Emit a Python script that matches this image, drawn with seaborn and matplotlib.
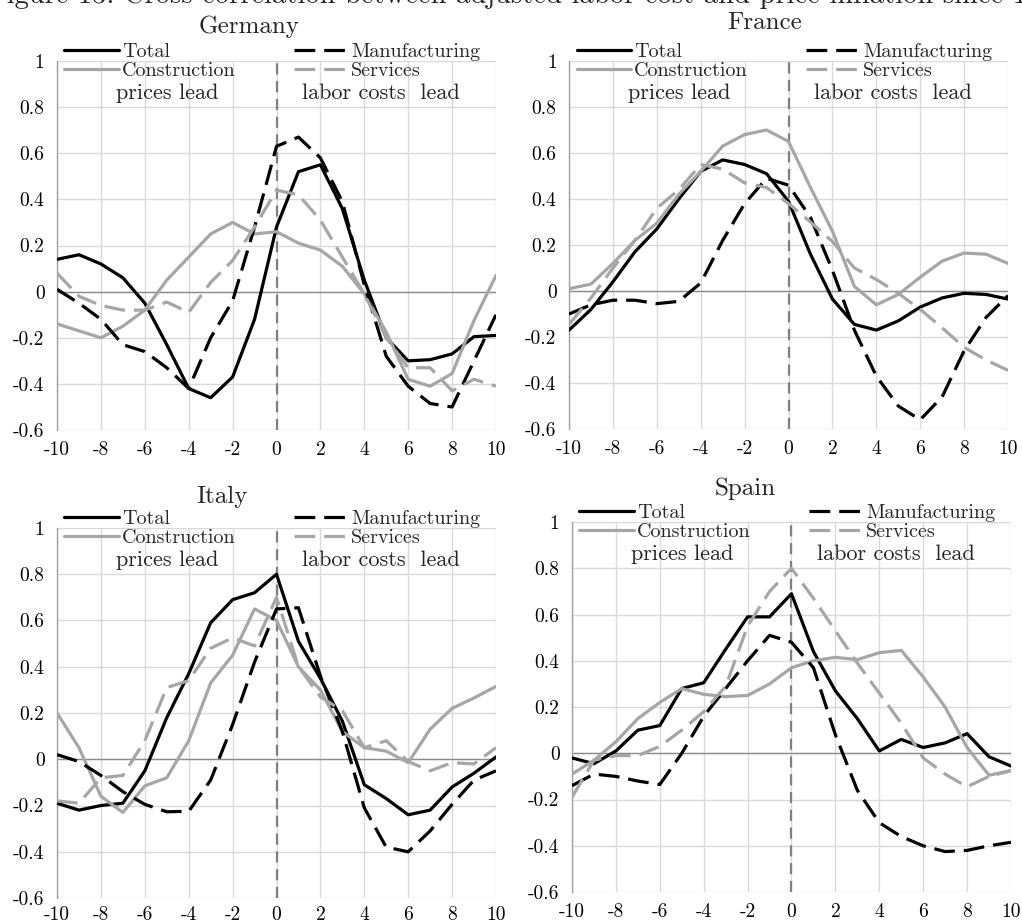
import numpy as np
import pandas as pd
import matplotlib
matplotlib.use("Agg")
import matplotlib.pyplot as plt
import seaborn as sns
from matplotlib.ticker import FuncFormatter

# lags
lags = list(range(-10, 11))

# Germany
de_total = [0.14, 0.16, 0.12, 0.06, -0.05, -0.23, -0.42, -0.46, -0.37, -0.12, 0.28, 0.52, 0.55, 0.36, 0.05, -0.20, -0.30, -0.295, -0.27, -0.195, -0.19]
de_manuf = [0.01, -0.05, -0.12, -0.23, -0.26, -0.33, -0.42, -0.20, -0.04, 0.28, 0.63, 0.67, 0.58, 0.39, 0.03, -0.28, -0.41, -0.485, -0.50, -0.30, -0.10]
de_constr = [-0.14, -0.17, -0.20, -0.15, -0.08, 0.05, 0.15, 0.25, 0.30, 0.25, 0.26, 0.21, 0.18, 0.11, -0.01, -0.175, -0.38, -0.41, -0.355, -0.125, 0.07]
de_serv = [0.08, -0.02, -0.06, -0.08, -0.08, -0.045, -0.09, 0.04, 0.135, 0.28, 0.44, 0.42, 0.31, 0.15, -0.01, -0.20, -0.33, -0.33, -0.43, -0.38, -0.41]

# France
fr_total = [-0.17, -0.08, 0.04, 0.17, 0.27, 0.40, 0.52, 0.57, 0.55, 0.51, 0.39, 0.16, -0.035, -0.145, -0.17, -0.13, -0.07, -0.03, -0.01, -0.015, -0.035]
fr_manuf = [-0.10, -0.06, -0.04, -0.04, -0.055, -0.045, 0.035, 0.22, 0.38, 0.49, 0.46, 0.32, 0.09, -0.17, -0.37, -0.50, -0.56, -0.46, -0.26, -0.115, -0.02]
fr_constr = [0.01, 0.03, 0.12, 0.22, 0.295, 0.42, 0.52, 0.63, 0.68, 0.70, 0.65, 0.45, 0.26, 0.02, -0.06, -0.015, 0.06, 0.13, 0.165, 0.16, 0.12]
fr_serv = [-0.145, -0.03, 0.10, 0.22, 0.36, 0.44, 0.55, 0.53, 0.47, 0.45, 0.38, 0.30, 0.215, 0.10, 0.05, -0.01, -0.08, -0.16, -0.245, -0.30, -0.345]

# Italy
it_total = [-0.19, -0.22, -0.20, -0.19, -0.05, 0.18, 0.37, 0.59, 0.69, 0.72, 0.80, 0.51, 0.35, 0.165, -0.11, -0.17, -0.24, -0.22, -0.12, -0.06, 0.01]
it_manuf = [0.02, -0.01, -0.07, -0.14, -0.195, -0.227, -0.225, -0.09, 0.15, 0.42, 0.65, 0.655, 0.36, 0.12, -0.21, -0.38, -0.40, -0.31, -0.195, -0.09, -0.05]
it_constr = [0.20, 0.05, -0.16, -0.23, -0.115, -0.08, 0.08, 0.33, 0.45, 0.65, 0.60, 0.40, 0.30, 0.12, 0.05, 0.035, -0.015, 0.13, 0.22, 0.265, 0.315]
it_serv = [-0.18, -0.19, -0.08, -0.07, 0.08, 0.31, 0.34, 0.48, 0.525, 0.49, 0.70, 0.40, 0.27, 0.21, 0.05, 0.08, -0.01, -0.05, -0.015, -0.02, 0.05]

# Spain
es_total = [-0.02, -0.045, 0.01, 0.10, 0.12, 0.28, 0.305, 0.45, 0.59, 0.59, 0.69, 0.44, 0.27, 0.15, 0.01, 0.06, 0.025, 0.045, 0.085, -0.015, -0.055]
es_manuf = [-0.14, -0.09, -0.10, -0.12, -0.135, 0.0, 0.16, 0.28, 0.40, 0.51, 0.48, 0.37, 0.08, -0.16, -0.30, -0.36, -0.40, -0.425, -0.42, -0.40, -0.385]
es_constr = [-0.09, -0.03, 0.05, 0.15, 0.22, 0.28, 0.255, 0.245, 0.25, 0.30, 0.37, 0.40, 0.415, 0.405, 0.435, 0.445, 0.33, 0.20, 0.025, -0.095, -0.075]
es_serv = [-0.19, -0.03, -0.01, -0.01, 0.03, 0.10, 0.18, 0.29, 0.55, 0.70, 0.80, 0.67, 0.53, 0.39, 0.26, 0.13, -0.02, -0.09, -0.145, -0.10, -0.075]

countries = ["Germany", "France", "Italy", "Spain"]
series_names = ["Total", "Construction", "Manufacturing", "Services"]
data = {
    "Germany": [de_total, de_constr, de_manuf, de_serv],
    "France": [fr_total, fr_constr, fr_manuf, fr_serv],
    "Italy": [it_total, it_constr, it_manuf, it_serv],
    "Spain": [es_total, es_constr, es_manuf, es_serv],
}

sns.set_style("white")
plt.rcParams["font.family"] = ["cmr10", "DejaVu Serif"]
plt.rcParams["axes.unicode_minus"] = False

black = "#000000"
grey = "#a6a6a6"
dash = (0, (6.5, 2.8))
styles = {
    "Total": dict(color=black, linestyle="-"),
    "Construction": dict(color=grey, linestyle="-"),
    "Manufacturing": dict(color=black, linestyle=dash),
    "Services": dict(color=grey, linestyle=dash),
}

fig = plt.figure(figsize=(10.22, 9.24), dpi=100)

# axes rectangles and title position (axes fraction)
rects = {
    "Germany": [0.0558, 0.5346, 0.4295, 0.3994],
    "France": [0.5568, 0.5357, 0.4295, 0.3983],
    "Italy": [0.0558, 0.0281, 0.4295, 0.4005],
    "Spain": [0.5597, 0.0346, 0.4295, 0.4004],
}
title_x = {"Germany": 0.437, "France": 0.446, "Italy": 0.376, "Spain": 0.394}
title_y = {"Germany": 1.076, "France": 1.088, "Italy": 1.068, "Spain": 1.073}
xpad = {"Germany": 8, "France": 8, "Italy": 5.5, "Spain": 8}

for c in countries:
    ax = fig.add_axes(rects[c])
    ax.axvline(0, color="#808080", lw=1.6, linestyle=(0, (5, 3)), zorder=1)
    ax.axhline(0, color="#8c8c8c", lw=1.0, zorder=1)
    for name, vals in zip(series_names, data[c]):
        sns.lineplot(x=lags, y=vals, ax=ax, label=name, lw=2.3, zorder=3, **styles[name])

    ax.set_xlim(-10, 10)
    ax.set_ylim(-0.6, 1.0)
    ax.set_xticks(range(-10, 11, 2))
    ax.set_yticks(np.arange(-0.6, 1.01, 0.2))
    ax.yaxis.set_major_formatter(FuncFormatter(lambda v, p: f"{round(v, 1):g}"))
    ax.grid(True, color="#d9d9d9", lw=1.0)
    ax.set_axisbelow(True)
    for s in ["top", "right", "bottom"]:
        ax.spines[s].set_visible(False)
    ax.spines["left"].set_color("#a0a0a0")
    ax.spines["left"].set_linewidth(1.0)
    ax.tick_params(axis="both", length=0, labelsize=14, colors="#000000")
    ax.tick_params(axis="y", pad=9)
    ax.tick_params(axis="x", pad=xpad[c])

    ax.text(title_x[c], title_y[c], c, transform=ax.transAxes, ha="center",
            va="baseline", fontsize=18)
    ax.text(0.25, 0.912, "prices lead", transform=ax.transAxes, ha="center",
            va="center", fontsize=16)
    ax.text(0.738, 0.912, "labor costs  lead", transform=ax.transAxes, ha="center",
            va="center", fontsize=16)

    ax.legend(loc="upper left", bbox_to_anchor=(0.017, 1.05), ncol=2, frameon=False,
              fontsize=14.5, handlelength=2.7, handletextpad=0.15, columnspacing=2.9,
              labelspacing=0.08, borderpad=0, borderaxespad=0)

fig.text(-0.012, 0.9968, "Figure 13: Cross correlation between adjusted labor cost and price inflation since 1999",
         ha="left", va="baseline", fontsize=20.6)

fig.savefig("out.png", dpi=100)
